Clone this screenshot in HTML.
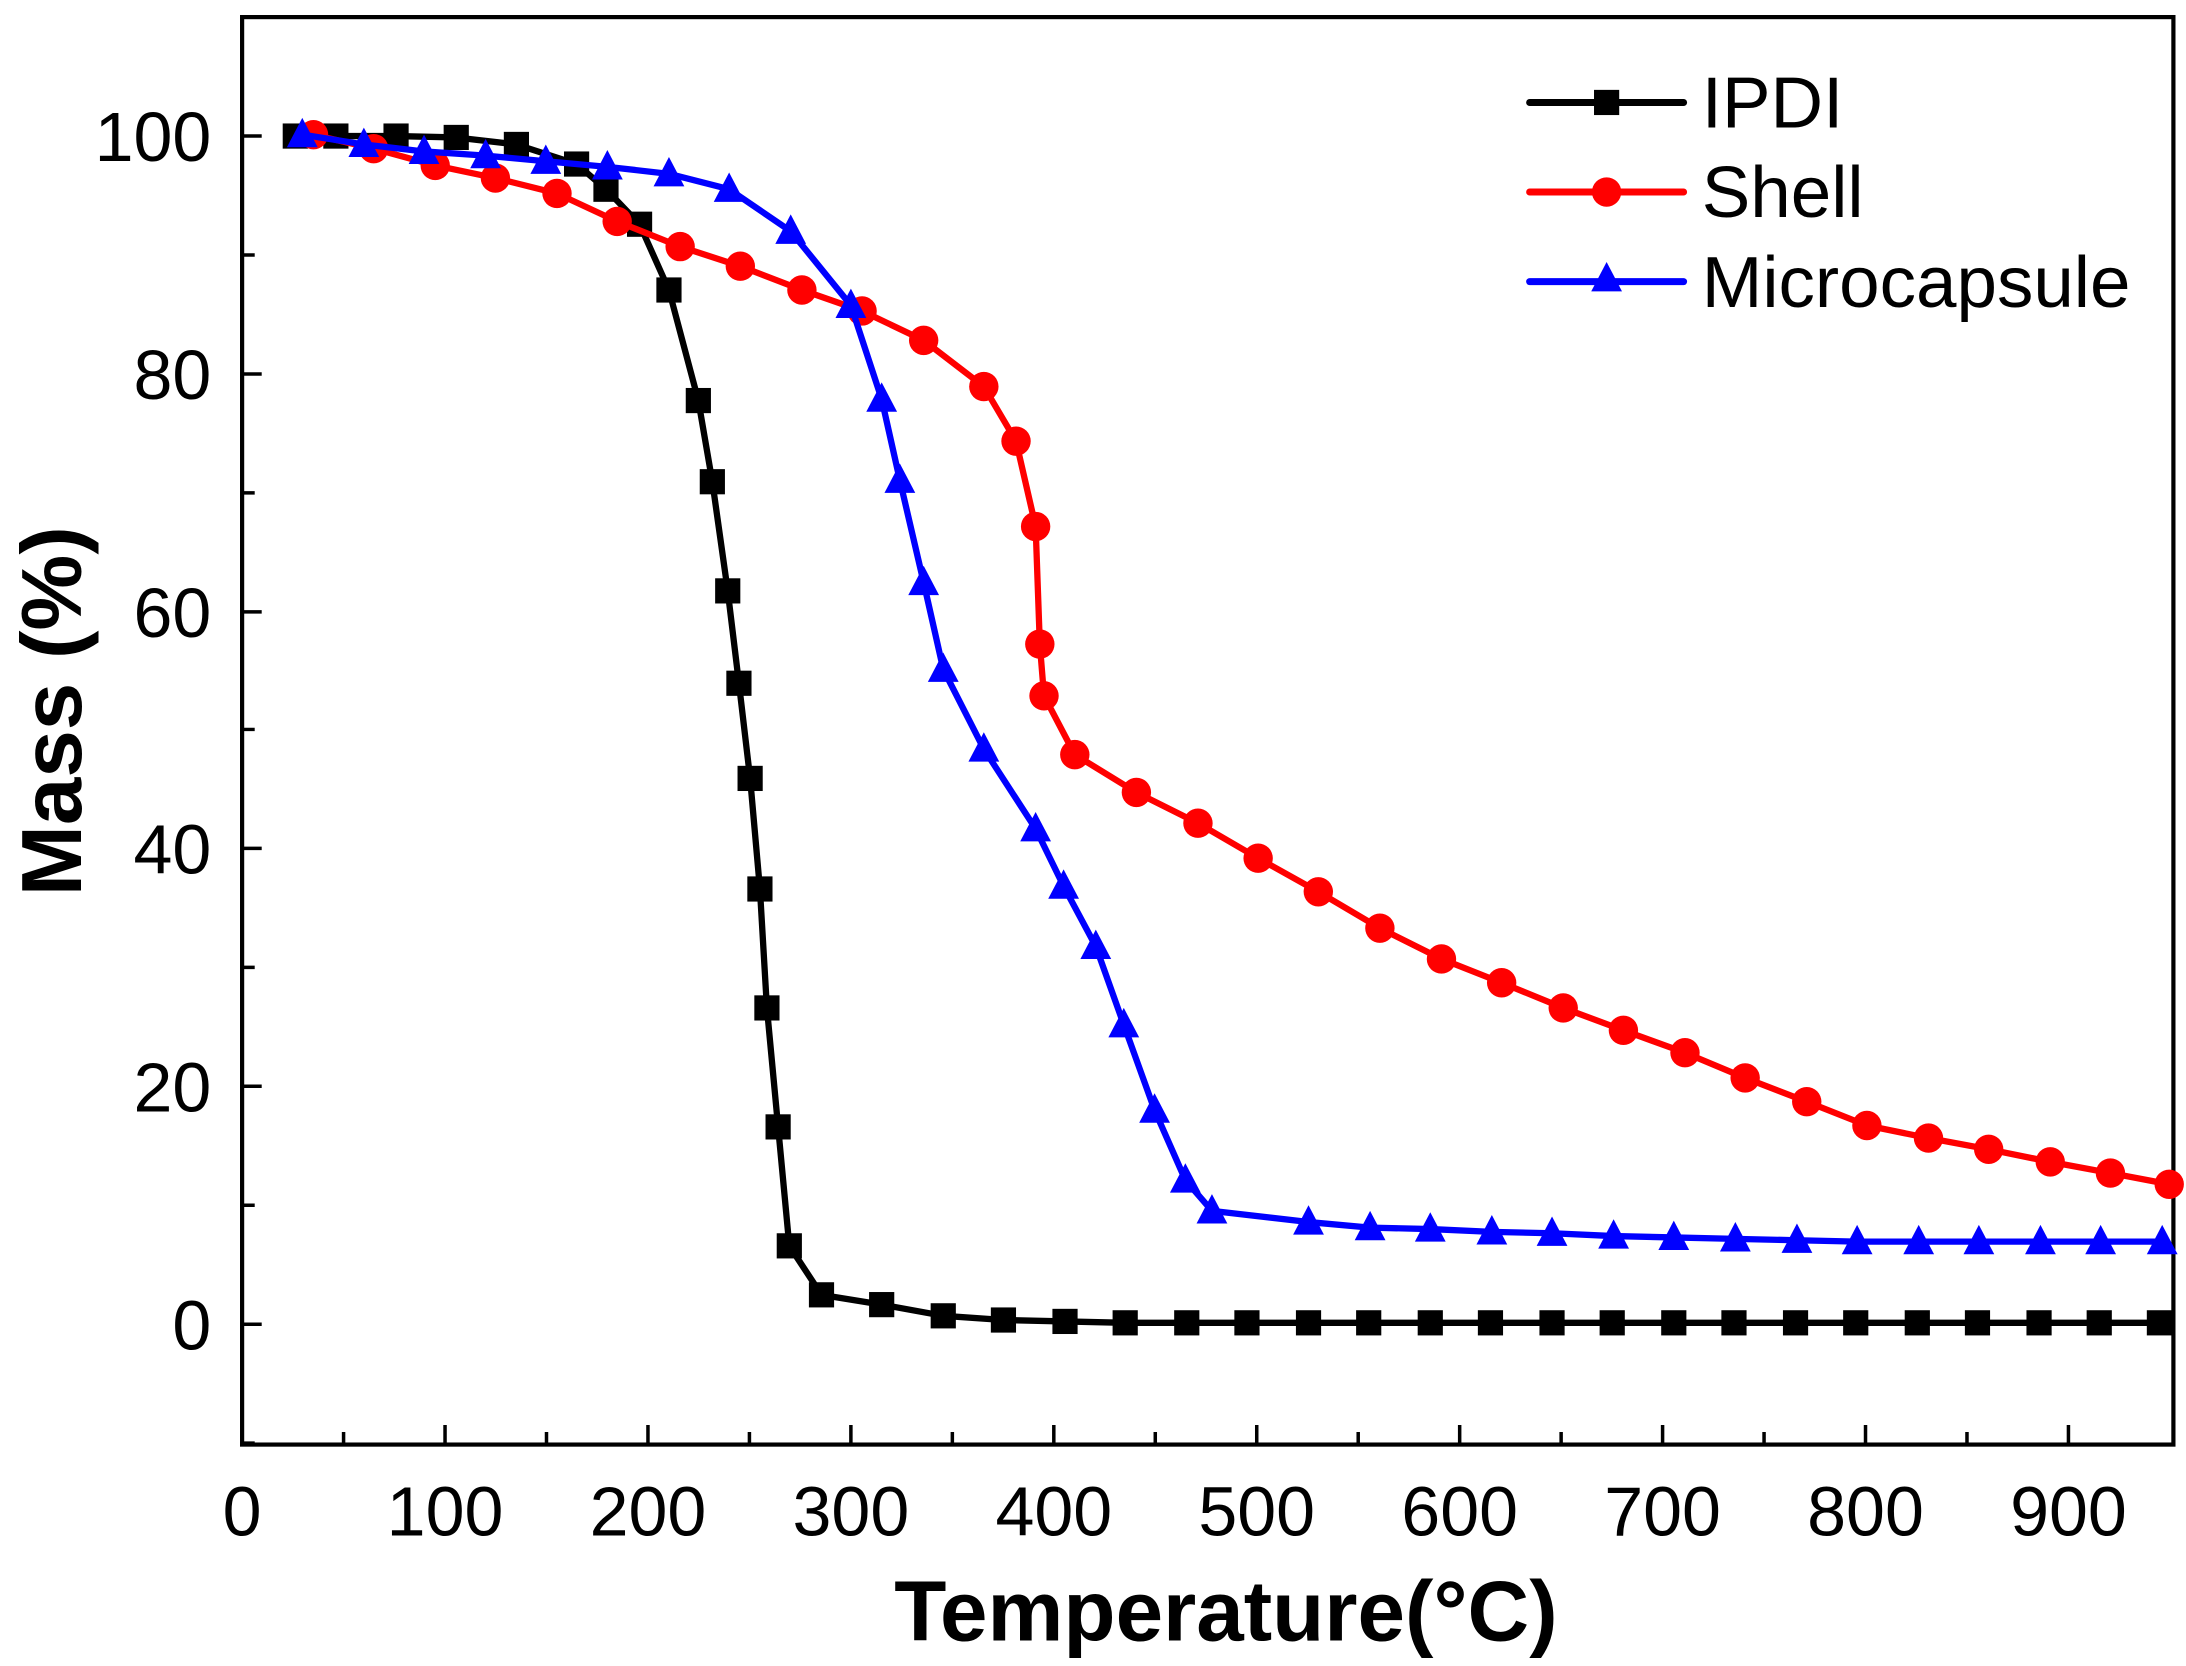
<!DOCTYPE html>
<html><head><style>html,body{margin:0;padding:0;background:#fff}svg{display:block}</style></head>
<body>
<svg width="2186" height="1666" viewBox="0 0 1562 1190" xmlns="http://www.w3.org/2000/svg" font-family="Liberation Sans, Arial, sans-serif">
<defs>
<rect id="sq" x="-9" y="-9" width="18" height="18" fill="#000"/>
<circle id="ci" r="10.5" fill="#ff0000"/>
<polygon id="tr" points="0,-12 11,9 -11,9" fill="#0000ff"/>
</defs>
<rect x="173" y="12" width="1380" height="1020" fill="none" stroke="#000" stroke-width="3"/>
<g stroke="#000" stroke-width="2.5">
<path d="M173,1032v-14M318,1032v-14M463,1032v-14M608,1032v-14M753,1032v-14M898,1032v-14M1043,1032v-14M1188,1032v-14M1333,1032v-14M1478,1032v-14"/>
<path d="M245.5,1032v-9M390.5,1032v-9M535.5,1032v-9M680.5,1032v-9M825.5,1032v-9M970.5,1032v-9M1115.5,1032v-9M1260.5,1032v-9M1405.5,1032v-9"/>
<path d="M173,946h14M173,776h14M173,606h14M173,437h14M173,267h14M173,97h14"/>
<path d="M173,1031h9M173,861h9M173,691h9M173,521h9M173,352h9M173,182h9"/>
</g>
<g font-size="50" text-anchor="end">
<text x="151" y="964">0</text><text x="151" y="794">20</text><text x="151" y="624">40</text><text x="151" y="455">60</text><text x="151" y="285">80</text><text x="151" y="115">100</text>
</g>
<g font-size="50" text-anchor="middle">
<text x="173" y="1097">0</text><text x="318" y="1097">100</text><text x="463" y="1097">200</text><text x="608" y="1097">300</text><text x="753" y="1097">400</text><text x="898" y="1097">500</text><text x="1043" y="1097">600</text><text x="1188" y="1097">700</text><text x="1333" y="1097">800</text><text x="1478" y="1097">900</text>
</g>
<text x="876" y="1172" font-size="61" font-weight="bold" text-anchor="middle">Temperature(°C)</text>
<text transform="translate(58,508) rotate(-90)" font-size="61" font-weight="bold" text-anchor="middle">Mass (%)</text>

<polyline fill="none" stroke="#000" stroke-width="4.5" stroke-linejoin="round" points="211,97 240,97 283,97 326,98 369,103 412,117 433,135 457,160 478,207 499,286 509,344 520,422 528,488 536,556 543,635 548,720 556,805 564,890 587,925 630,932 674,940 717,943 761,944 804,945 848,945 891,945 935,945 978,945 1022,945 1065,945 1109,945 1152,945 1196,945 1239,945 1283,945 1326,945 1370,945 1413,945 1457,945 1500,945 1543,945"/>
<g>
<use href="#sq" x="211" y="97"/><use href="#sq" x="240" y="97"/><use href="#sq" x="283" y="97"/><use href="#sq" x="326" y="98"/><use href="#sq" x="369" y="103"/><use href="#sq" x="412" y="117"/><use href="#sq" x="433" y="135"/><use href="#sq" x="457" y="160"/><use href="#sq" x="478" y="207"/><use href="#sq" x="499" y="286"/><use href="#sq" x="509" y="344"/><use href="#sq" x="520" y="422"/><use href="#sq" x="528" y="488"/><use href="#sq" x="536" y="556"/><use href="#sq" x="543" y="635"/><use href="#sq" x="548" y="720"/><use href="#sq" x="556" y="805"/><use href="#sq" x="564" y="890"/><use href="#sq" x="587" y="925"/><use href="#sq" x="630" y="932"/><use href="#sq" x="674" y="940"/><use href="#sq" x="717" y="943"/><use href="#sq" x="761" y="944"/><use href="#sq" x="804" y="945"/><use href="#sq" x="848" y="945"/><use href="#sq" x="891" y="945"/><use href="#sq" x="935" y="945"/><use href="#sq" x="978" y="945"/><use href="#sq" x="1022" y="945"/><use href="#sq" x="1065" y="945"/><use href="#sq" x="1109" y="945"/><use href="#sq" x="1152" y="945"/><use href="#sq" x="1196" y="945"/><use href="#sq" x="1239" y="945"/><use href="#sq" x="1283" y="945"/><use href="#sq" x="1326" y="945"/><use href="#sq" x="1370" y="945"/><use href="#sq" x="1413" y="945"/><use href="#sq" x="1457" y="945"/><use href="#sq" x="1500" y="945"/><use href="#sq" x="1543" y="945"/>
</g>

<polyline fill="none" stroke="#ff0000" stroke-width="4.5" stroke-linejoin="round" points="224,96 267,106 311,118 354,127 398,138 441,158 486,176 529,190 573,207 616,222 660,243 703,276 726,315 740,376 743,460 746,497 768,539 812,566 856,588 899,613 942,637 986,663 1030,685 1073,702 1117,720 1160,736 1204,752 1247,770 1291,787 1334,804 1378,813 1421,821 1465,830 1508,838 1550,846"/>
<g>
<use href="#ci" x="224" y="96"/><use href="#ci" x="267" y="106"/><use href="#ci" x="311" y="118"/><use href="#ci" x="354" y="127"/><use href="#ci" x="398" y="138"/><use href="#ci" x="441" y="158"/><use href="#ci" x="486" y="176"/><use href="#ci" x="529" y="190"/><use href="#ci" x="573" y="207"/><use href="#ci" x="616" y="222"/><use href="#ci" x="660" y="243"/><use href="#ci" x="703" y="276"/><use href="#ci" x="726" y="315"/><use href="#ci" x="740" y="376"/><use href="#ci" x="743" y="460"/><use href="#ci" x="746" y="497"/><use href="#ci" x="768" y="539"/><use href="#ci" x="812" y="566"/><use href="#ci" x="856" y="588"/><use href="#ci" x="899" y="613"/><use href="#ci" x="942" y="637"/><use href="#ci" x="986" y="663"/><use href="#ci" x="1030" y="685"/><use href="#ci" x="1073" y="702"/><use href="#ci" x="1117" y="720"/><use href="#ci" x="1160" y="736"/><use href="#ci" x="1204" y="752"/><use href="#ci" x="1247" y="770"/><use href="#ci" x="1291" y="787"/><use href="#ci" x="1334" y="804"/><use href="#ci" x="1378" y="813"/><use href="#ci" x="1421" y="821"/><use href="#ci" x="1465" y="830"/><use href="#ci" x="1508" y="838"/><use href="#ci" x="1550" y="846"/>
</g>

<polyline fill="none" stroke="#0000ff" stroke-width="4.5" stroke-linejoin="round" points="216,96 260,103 303,108 347,111 390,115 434,119 478,124 521,135 565,165 608,218 630,285 643,343 660,416 674,478 703,535 740,592 760,633 783,676 803,732 825,793 847,843 866,865 935,873 979,877 1022,878 1066,880 1109,881 1153,883 1196,884 1240,885 1284,886 1327,887 1371,887 1414,887 1458,887 1501,887 1545,887"/>
<g>
<use href="#tr" x="216" y="96"/><use href="#tr" x="260" y="103"/><use href="#tr" x="303" y="108"/><use href="#tr" x="347" y="111"/><use href="#tr" x="390" y="115"/><use href="#tr" x="434" y="119"/><use href="#tr" x="478" y="124"/><use href="#tr" x="521" y="135"/><use href="#tr" x="565" y="165"/><use href="#tr" x="608" y="218"/><use href="#tr" x="630" y="285"/><use href="#tr" x="643" y="343"/><use href="#tr" x="660" y="416"/><use href="#tr" x="674" y="478"/><use href="#tr" x="703" y="535"/><use href="#tr" x="740" y="592"/><use href="#tr" x="760" y="633"/><use href="#tr" x="783" y="676"/><use href="#tr" x="803" y="732"/><use href="#tr" x="825" y="793"/><use href="#tr" x="847" y="843"/><use href="#tr" x="866" y="865"/><use href="#tr" x="935" y="873"/><use href="#tr" x="979" y="877"/><use href="#tr" x="1022" y="878"/><use href="#tr" x="1066" y="880"/><use href="#tr" x="1109" y="881"/><use href="#tr" x="1153" y="883"/><use href="#tr" x="1196" y="884"/><use href="#tr" x="1240" y="885"/><use href="#tr" x="1284" y="886"/><use href="#tr" x="1327" y="887"/><use href="#tr" x="1371" y="887"/><use href="#tr" x="1414" y="887"/><use href="#tr" x="1458" y="887"/><use href="#tr" x="1501" y="887"/><use href="#tr" x="1545" y="887"/>
</g>

<g stroke-width="5" stroke-linecap="round">
<line x1="1093" y1="73" x2="1203" y2="73" stroke="#000"/>
<line x1="1093" y1="137" x2="1203" y2="137" stroke="#ff0000"/>
<line x1="1093" y1="201" x2="1203" y2="201" stroke="#0000ff"/>
</g>
<use href="#sq" x="1148" y="73"/><use href="#ci" x="1148" y="137"/><use href="#tr" x="1148" y="199"/>
<g font-size="52">
<text x="1216" y="91">IPDI</text><text x="1216" y="155">Shell</text><text x="1216" y="219">Microcapsule</text>
</g>
</svg>
</body></html>
